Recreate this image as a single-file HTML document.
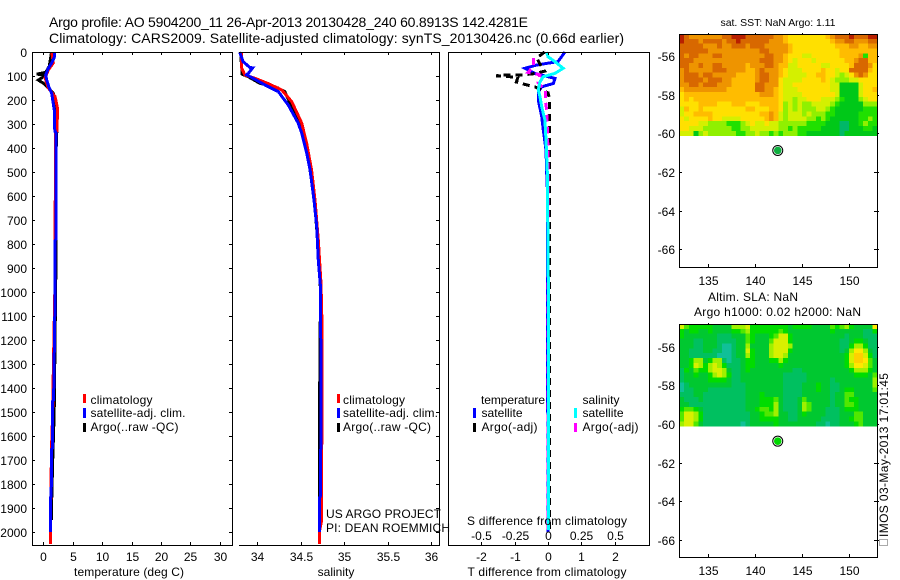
<!DOCTYPE html>
<html>
<head>
<meta charset="utf-8">
<title>Argo profile</title>
<style>
html,body{margin:0;padding:0;background:#fff;}
svg{display:block;}
text{font-family:"Liberation Sans",sans-serif;font-size:12px;fill:#000;}
.title{font-size:14px;}
.mid{text-anchor:middle;}
.end{text-anchor:end;}
</style>
</head>
<body>
<svg id="chart" width="900" height="580" viewBox="0 0 900 580" xmlns="http://www.w3.org/2000/svg">
<rect x="0" y="0" width="900" height="580" fill="#fff"/>
<g id="plots"></g>
<g>
<text class="title" x="49" y="27" textLength="479" lengthAdjust="spacing">Argo profile: AO 5904200_11 26-Apr-2013 20130428_240 60.8913S 142.4281E</text>
<text class="title" x="49" y="43" textLength="575" lengthAdjust="spacing">Climatology: CARS2009. Satellite-adjusted climatology: synTS_20130426.nc (0.66d earlier)</text>
</g>
<text class="mid" x="129" y="576" textLength="110">temperature (deg C)</text>
<text class="mid" x="336" y="576">salinity</text>
<text class="mid" x="547" y="576" textLength="159">T difference from climatology</text>
<text class="mid" x="547" y="525" textLength="160">S difference from climatology</text>

<g>
<rect x="83" y="394" width="3" height="9" fill="#f00"/>
<text x="90.5" y="404" textLength="62">climatology</text>
<rect x="83" y="408" width="3" height="10" fill="#00f"/>
<text x="90.5" y="417" textLength="95">satellite-adj. clim.</text>
<rect x="83" y="423" width="3" height="9" fill="#000"/>
<text x="90.5" y="431" textLength="88">Argo(..raw -QC)</text>
</g>
<g>
<rect x="337" y="394" width="3" height="9" fill="#f00"/>
<text x="343" y="404" textLength="62">climatology</text>
<rect x="337" y="408" width="3" height="10" fill="#00f"/>
<text x="343" y="417" textLength="95">satellite-adj. clim.</text>
<rect x="337" y="423" width="3" height="9" fill="#000"/>
<text x="343" y="431" textLength="88">Argo(..raw -QC)</text>
</g>
<g>
<text x="481" y="404" textLength="64">temperature</text>
<rect x="473" y="408" width="3" height="10" fill="#00f"/>
<text x="481.5" y="417" textLength="41">satellite</text>
<rect x="473" y="423" width="3" height="9" fill="#000"/>
<text x="481.5" y="431" textLength="56">Argo(-adj)</text>
<text x="582.5" y="404" textLength="37">salinity</text>
<rect x="574" y="408" width="3" height="10" fill="#0ff"/>
<text x="582.5" y="417" textLength="41">satellite</text>
<rect x="574" y="423" width="3" height="9" fill="#f0f"/>
<text x="582.5" y="431" textLength="56">Argo(-adj)</text>
</g>
<text x="326" y="518" textLength="115">US ARGO PROJECT</text>
<text x="326" y="532" textLength="124">PI: DEAN ROEMMICH</text>

<text class="mid" x="778" y="26" textLength="115" style="font-size:10.5px">sat. SST: NaN Argo: 1.11</text>
<text x="708" y="301" textLength="90">Altim. SLA: NaN</text>
<text x="694" y="316" textLength="167">Argo h1000: 0.02 h2000: NaN</text>

<g>
<rect x="879.5" y="539.5" width="8" height="6" fill="#fff" stroke="#555" stroke-dasharray="1 1" shape-rendering="crispEdges"/>
<text transform="translate(888,537) rotate(-90)" textLength="164">IMOS 03-May-2013 17:01:45</text>
</g>
</svg>

<script>
/* ---- profile data: pressure (dbar) and values ---- */
const depthTicks = [0,100,200,300,400,500,600,700,800,900,1000,1100,1200,1300,1400,1500,1600,1700,1800,1900,2000];

const tempTicks = [0,5,10,15,20,25,30];
const salinityTicks = [34,34.5,35,35.5,36];
const salinityTickLabels = ['34','34.5','35','35.5','36'];
const tDiffTicks = [-2,-1,0,1,2];
const sDiffTicks = [-0.5,-0.25,0,0.25,0.5];
const sDiffTickLabels = ['-0.5','-0.25','0','0.25','0.5'];

const tempClimDepth = [0,46,75,108,150,186,233,330,335,1000,1400,1500,1650,1850,1900,2050];
const tempClim = [1.45,1.7,0.85,0.3,0.85,2.0,2.4,2.35,2.1,1.95,1.65,1.6,1.4,1.3,1.2,1.2];
const tempSatDepth = [0,20,46,68,96,117,147,172,200,242,330,335,780,785,1000,1450,1455,1650,1655,1850,1855,2000];
const tempSat = [1.9,1.9,1.43,0.85,0.4,0.58,0.97,1.43,1.6,1.87,1.95,2.12,2.12,2.0,2.0,1.75,1.6,1.55,1.4,1.35,1.2,1.2];
const tempArgoDepth = [0,25,60,85,92,96,105,117,130,140,172,200,300,400,800,1000,1500,1700,1900,1950];
const tempArgo = [1.4,1.25,1.0,0.4,-1.1,0.0,-0.1,-0.85,0.0,0.45,1.7,2.0,2.35,2.2,2.2,2.1,1.85,1.6,1.4,1.4];

const salClimDepth = [0,67,96,110,131,158,207,296,379,492,617,783,963,1100,1500,1850,1950,2000,2050];
const salClim = [33.82,33.824,33.86,33.98,34.126,34.284,34.4,34.514,34.57,34.628,34.667,34.705,34.736,34.745,34.745,34.744,34.744,34.716,34.716];
const salSatDepth = [0,40,65,66,89,95,110,137,165,221,297,338,421,492,617,725,867,979,1400,1650,1660,1850,1860,2000];
const salSat = [33.8,33.84,33.92,33.95,33.9,33.88,33.957,34.09,34.245,34.36,34.475,34.514,34.571,34.61,34.655,34.686,34.705,34.73,34.736,34.736,34.728,34.728,34.716,34.716];
const salArgoDepth = [0,93,103,130,150,165,221,297,421,617,867,1000,1600,1950];
const salArgo = [33.81,33.83,33.9,34.03,34.24,34.32,34.39,34.49,34.58,34.66,34.715,34.73,34.716,34.72];

const tDiffSatDepth = [0,40,54,68,89,110,131,145,166,200,269,325,408,504,567,2000];
const tDiffSat = [0.51,0.30,-0.34,-0.69,-0.39,0.21,0.16,-0.19,-0.29,-0.29,-0.19,-0.14,-0.06,-0.04,-0.02,0];
const tDiffArgoDepth = [0,25,60,80,90,95,97,100,105,125,135,145,170,190,300,1000,2000];
const tDiffArgo = [-0.1,-0.34,-0.2,-0.1,-0.4,-0.75,-1.5,-1.55,-0.9,-0.95,-0.7,-0.4,0,0.04,0.04,0.05,0.05];
const sDiffSatDepth = [0,20,40,68,89,103,124,158,186,228,283,366,500,1000,1990];
const sDiffSat = [-0.01,0,0.052,0.114,0.052,-0.035,-0.06,-0.073,-0.06,-0.047,-0.023,-0.015,-0.005,0.003,0.003];
const sDiffArgoDepth = [25,60,85,95,128,158,200,242,408,1000,1990];
const sDiffArgo = [-0.11,-0.11,-0.15,-0.06,-0.075,-0.02,-0.02,-0.01,0,0,0];

/* ---- map data: colour level per cell, north to south ---- */
const lonTicks = [135,140,145,150];
const latTicks = [-56,-58,-60,-62,-64,-66];
const floatLon = 142.43;
const floatLat = -60.89;

const sstGrid = [
[9,8,7,7,7,7,7,7,7,8,8,9,9,9,8,8,8,8,8,8,7, 7,6,5,5,5,5,5,5,5,5,6,7,8,8,8,9,8,8,8,9,9],
[9,8,8,8,7,8,8,8,8,7,8,8,9,8,8,8,8,8,8,7,7, 7,6,5,5,5,5,5,5,5,5,5,6,7,7,8,8,7,7,7,8,8],
[8,8,8,8,8,7,7,7,8,7,7,8,8,8,7,8,8,8,7,7,7, 7,7,6,5,5,5,5,5,5,5,5,5,6,6,6,7,7,6,6,7,7],
[8,8,8,8,8,8,7,7,7,7,7,7,7,7,7,7,7,8,8,7,7, 7,7,6,5,5,5,5,5,5,5,5,5,5,6,6,6,6,6,6,6,6],
[8,7,8,8,7,7,7,8,8,7,7,7,7,7,7,7,7,7,8,8,7, 7,6,5,5,5,4,4,5,5,5,5,5,5,6,6,6,6,7,2,6,6],
[8,8,8,7,7,7,7,7,7,7,7,7,7,7,7,7,7,8,8,8,7, 7,6,5,4,5,5,5,4,5,5,5,5,5,5,6,6,7,8,8,6,6],
[8,8,7,7,8,7,7,8,8,7,7,7,7,7,6,7,7,7,8,8,7, 6,6,4,4,5,5,5,5,5,4,4,5,5,5,5,6,8,8,8,7,5],
[7,8,7,7,7,7,7,8,8,8,7,7,7,7,6,6,7,8,7,7,7, 6,5,4,4,4,5,5,5,5,6,5,5,4,5,5,8,8,8,8,6,5],
[7,8,8,8,7,8,8,7,7,7,7,7,6,6,6,6,7,8,8,7,7, 6,5,4,4,4,4,5,5,6,6,5,5,4,3,4,5,7,8,7,5,5],
[7,8,8,8,8,7,8,8,8,7,7,6,6,6,6,6,7,8,8,7,7, 5,4,4,4,4,5,5,5,5,6,5,4,3,3,3,4,4,5,5,5,5],
[7,7,8,8,7,8,8,8,7,7,7,6,6,6,6,6,8,8,7,7,7, 5,4,4,5,5,5,5,5,5,5,5,4,4,1,1,1,1,4,5,5,5],
[6,7,7,7,7,7,7,7,7,7,6,6,6,6,6,6,8,8,7,7,6, 5,4,4,4,5,5,5,5,5,5,5,4,4,1,1,1,1,4,5,5,6],
[5,6,6,6,6,6,6,6,6,6,6,6,6,6,6,6,6,7,7,7,6, 5,4,4,4,4,5,5,5,5,5,5,5,4,1,1,1,1,4,5,5,5],
[5,6,5,6,6,6,6,6,6,6,6,6,6,6,6,6,6,6,6,6,6, 5,4,4,3,4,4,5,5,5,4,4,4,3,2,1,1,1,3,4,5,5],
[5,5,5,5,6,6,6,6,5,5,5,6,6,6,5,5,5,6,6,6,6, 5,3,4,3,4,3,3,4,4,4,4,3,2,1,1,1,1,1,3,3,3],
[4,6,5,5,6,5,5,5,5,5,5,5,5,5,6,6,5,5,5,6,6, 5,3,4,3,4,3,3,3,4,4,3,2,1,1,1,1,1,1,2,2,2],
[4,5,5,6,6,6,6,5,5,5,5,5,5,5,5,5,5,6,6,7,6, 4,3,4,4,4,3,4,3,3,3,2,2,1,1,1,1,1,2,2,2,2],
[5,4,5,5,5,5,6,5,5,4,4,4,4,5,5,5,5,5,6,7,6, 4,3,4,4,4,4,3,3,2,3,2,1,1,1,1,1,1,2,2,3,2],
[5,5,5,5,4,4,3,3,3,3,2,2,2,3,4,5,4,4,5,4,4, 3,3,3,3,3,3,2,2,2,2,1,1,1,0,0,1,1,2,3,2,2],
[5,5,4,4,4,3,3,3,3,3,3,2,2,3,3,4,4,4,4,4,4, 3,3,2,3,2,2,2,2,2,1,1,1,1,0,0,1,1,1,2,2,1],
[4,4,4,1,3,4,3,3,3,3,3,3,2,2,3,3,4,3,3,2,3, 2,3,3,3,2,2,1,1,1,1,1,1,1,0,1,1,1,1,1,1,1]
];

const slaGrid = [
[6,4,3,3,3,3,3,2,2,2,2,5,5,5,6,3,3,3,3,3,3, 3,3,2,3,3,3,3,2,2,2,2,4,3,4,5,3,2,2,2,2,7],
[3,2,3,3,2,2,3,2,2,2,2,3,3,4,5,3,3,3,3,3,3, 4,3,2,2,2,2,2,2,2,2,2,3,2,2,2,2,2,2,1,1,3],
[3,2,2,2,2,2,2,2,1,1,1,2,2,2,4,3,2,2,2,3,4, 6,6,3,2,2,2,2,2,2,2,2,2,2,2,1,2,2,2,1,1,1],
[2,2,2,1,1,2,2,2,1,1,1,1,2,2,4,3,2,2,2,4,6, 6,6,3,2,2,2,2,2,2,2,2,2,2,1,1,2,3,3,2,1,1],
[2,2,2,1,1,2,2,2,1,0,0,1,2,2,5,2,2,2,2,5,6, 6,6,5,2,2,2,2,2,2,2,2,2,2,1,1,3,5,5,3,1,1],
[2,2,1,1,1,2,2,1,1,0,0,1,2,2,6,3,2,2,2,5,6, 6,6,3,2,2,2,2,2,2,2,2,2,2,1,2,5,7,7,5,2,1],
[2,2,1,1,1,1,1,1,0,0,0,1,2,2,5,3,2,2,2,5,6, 6,5,2,2,2,2,2,2,2,2,2,2,2,2,3,6,8,8,6,3,1],
[2,2,3,5,5,2,3,5,5,1,0,1,1,2,3,3,2,2,2,3,3, 5,3,2,2,2,2,2,2,2,2,2,2,2,2,3,6,8,8,7,4,2],
[2,2,3,6,5,3,5,6,5,3,1,1,1,2,3,3,2,2,2,2,2, 3,2,2,2,2,2,2,2,2,2,2,2,2,2,3,5,7,7,6,4,2],
[1,3,2,4,3,3,5,6,6,5,2,1,1,2,3,2,2,2,2,2,2, 2,2,2,1,1,2,2,2,2,2,2,2,2,2,2,3,5,5,5,3,2],
[1,2,2,3,2,2,3,5,6,5,3,1,1,2,2,2,2,2,2,2,2, 2,1,1,1,1,1,2,2,2,2,2,2,2,2,2,2,3,3,3,2,4],
[1,2,2,2,2,2,3,3,3,3,2,1,1,2,2,2,2,2,2,2,2, 2,1,1,1,1,1,2,2,2,2,2,1,2,2,2,2,2,2,2,2,5],
[0,1,2,2,2,2,2,2,2,2,2,1,1,1,2,2,2,2,2,2,2, 2,1,1,1,1,2,2,2,3,2,2,1,1,2,2,2,2,2,2,2,5],
[0,1,1,2,2,2,1,1,1,1,1,1,1,1,2,2,2,2,2,2,2, 2,1,1,1,1,2,2,2,3,2,2,1,1,2,3,3,2,2,2,2,4],
[1,1,1,2,2,1,1,1,1,1,1,1,1,1,2,2,2,3,2,2,2, 2,1,1,1,1,2,2,2,2,2,2,1,2,2,4,4,2,2,2,2,2],
[2,1,1,1,2,1,1,1,1,1,1,1,1,1,2,2,2,3,3,3,4, 2,1,1,1,2,4,2,2,2,2,2,1,2,2,4,3,3,2,2,2,2],
[2,2,1,1,1,1,1,1,1,1,1,1,1,1,2,2,2,3,3,3,5, 2,1,1,1,2,5,4,2,2,2,2,1,2,2,4,4,3,2,2,2,2],
[3,4,4,3,2,1,1,1,1,1,1,1,1,1,2,2,3,4,4,3,5, 2,1,1,1,2,5,4,2,2,2,1,1,1,2,3,3,3,2,2,2,2],
[4,6,6,5,3,1,1,1,1,1,1,1,1,1,1,2,2,3,4,4,5, 2,2,1,1,2,3,2,2,2,2,1,1,1,2,2,2,4,4,2,2,2],
[4,6,6,5,3,1,1,1,1,1,1,1,1,1,1,2,2,3,3,3,3, 2,2,1,1,2,2,2,2,2,1,1,1,1,2,2,3,4,4,2,2,2],
[5,6,6,4,2,1,1,1,1,1,1,1,1,0,1,2,2,2,2,2,3, 2,2,2,2,2,2,2,2,1,1,0,1,1,2,2,2,3,4,2,2,2]
];

/* ---- drawing ---- */
const NS = 'http://www.w3.org/2000/svg';
const plots = document.getElementById('plots');
const TOP = 52, BOTTOM = 545;
function depthY(d){ return TOP + d * 0.2401; }
function tempX(v){ return 43.3 + v * 5.88; }
function salX(v){ return 257 + (v - 34) * 87; }
function tDiffX(v){ return 548 + v * 33.33; }
function sDiffX(v){ return 548 + v * 133.3; }
function lonX(v){ return 679.5 + (v - 132) * 9.42; }
function latY(y56, v){ return y56 + (-56 - v) * 19.32; }

function make(parent, tag, attrs, txt){
  const el = document.createElementNS(NS, tag);
  for (const k in attrs) el.setAttribute(k, attrs[k]);
  if (txt !== undefined) el.textContent = txt;
  parent.appendChild(el);
  return el;
}
function hLine(g, x1, x2, y){
  const el = make(g, 'line', {x1:x1, x2:x2, y1:y+0.5, y2:y+0.5, stroke:'#000', 'stroke-width':1, 'shape-rendering':'crispEdges'});
  
  
}
function vLine(g, x, y1, y2){
  const el = make(g, 'line', {x1:x+0.5, x2:x+0.5, y1:y1, y2:y2, stroke:'#000', 'stroke-width':1, 'shape-rendering':'crispEdges'});
  
  
}
function tickMark(g, x1, y1, x2, y2){
  const el = make(g, 'line', {x1:x1, y1:y1, x2:x2, y2:y2, stroke:'#000', 'stroke-width':1, 'shape-rendering':'crispEdges'});
  
  
}
function tickLabel(g, x, y, cls, txt){
  const el = make(g, 'text', {x:x, y:y, 'class':cls}, txt);
  
  
}
function profile(g, name, depths, values, xFn, color, dash){
  const pts = depths.map(function(d, i){ return xFn(values[i]).toFixed(1) + ',' + depthY(d).toFixed(1); }).join(' ');
  const attrs = {points:pts, fill:'none', stroke:color, 'stroke-width':3, 'shape-rendering':'crispEdges'};
  if (dash) attrs['stroke-dasharray'] = dash;
  const el = make(g, 'polyline', attrs);
  
  
}
function yTicks(g, x1, x2){
  depthTicks.forEach(function(d){
    const y = Math.round(depthY(d)) + 0.5;
    tickMark(g, x1, y, x2, y);
  });
}

/* panel 1: temperature */
const p1 = make(plots, 'g', {});


profile(p1, 'temperature-argo-line', tempArgoDepth, tempArgo, tempX, '#000');
profile(p1, 'temperature-climatology-line', tempClimDepth, tempClim, tempX, '#f00');
profile(p1, 'temperature-satellite-line', tempSatDepth, tempSat, tempX, '#00f');
hLine(p1, 32, 233, TOP); hLine(p1, 32, 233, BOTTOM); vLine(p1, 32, TOP, BOTTOM+1); vLine(p1, 232, TOP, BOTTOM+1);
yTicks(p1, 32, 35); yTicks(p1, 229, 232);
depthTicks.forEach(function(d){ tickLabel(p1, 27, Math.round(depthY(d)) + 5, 'end', String(d)); });
tempTicks.forEach(function(v){
  const x = Math.round(tempX(v)) + 0.5;
  tickMark(p1, x, TOP, x, TOP+3);
  tickMark(p1, x, BOTTOM-3, x, BOTTOM);
  tickLabel(p1, x, 561, 'mid', String(v));
});

/* panel 2: salinity */
const p2 = make(plots, 'g', {});


profile(p2, 'salinity-argo-line', salArgoDepth, salArgo, salX, '#000');
profile(p2, 'salinity-climatology-line', salClimDepth, salClim, salX, '#f00');
profile(p2, 'salinity-satellite-line', salSatDepth, salSat, salX, '#00f');
hLine(p2, 239, 440, TOP); hLine(p2, 239, 440, BOTTOM); vLine(p2, 439, TOP, BOTTOM+1);
yTicks(p2, 436, 439);
salinityTicks.forEach(function(v, i){
  const x = Math.round(salX(v)) + 0.5;
  tickMark(p2, x, TOP, x, TOP+3);
  tickMark(p2, x, BOTTOM-3, x, BOTTOM);
  tickLabel(p2, x, 561, 'mid', salinityTickLabels[i]);
});

/* panel 3: differences */
const p3 = make(plots, 'g', {});


profile(p3, 't-difference-satellite-line', tDiffSatDepth, tDiffSat, tDiffX, '#00f');
profile(p3, 't-difference-argo-line', tDiffArgoDepth, tDiffArgo, tDiffX, '#000', '7 5');
profile(p3, 's-difference-argo-line', sDiffArgoDepth, sDiffArgo, sDiffX, '#f0f', '7 5');
profile(p3, 's-difference-satellite-line', sDiffSatDepth, sDiffSat, sDiffX, '#0ff');
hLine(p3, 448, 650, TOP); hLine(p3, 448, 650, BOTTOM); vLine(p3, 448, TOP, BOTTOM+1); vLine(p3, 649, TOP, BOTTOM+1);
tDiffTicks.forEach(function(v){
  const x = Math.round(tDiffX(v)) + 0.5;
  tickMark(p3, x, TOP, x, TOP+3);
  tickMark(p3, x, BOTTOM-3, x, BOTTOM);
  tickLabel(p3, x, 561, 'mid', String(v));
});
sDiffTicks.forEach(function(v, i){
  tickLabel(p3, Math.round(sDiffX(v)) + 0.5, 540, 'mid', sDiffTickLabels[i]);
});

/* maps */
const sstColors = ['#00b868','#00c818','#20e000','#90f000','#d4f000','#ffe000','#ffbc00','#ee9400','#d86800','#b82000'];
const slaColors = ['#10c098','#00c060','#00c830','#00dc00','#50e800','#a0f000','#d8f000','#ffe800','#ffd000'];
function drawMap(name, grid, palette, top, y56, dotColor){
  const m = make(plots, 'g', {});
  
  
  const bottom = top + 233, left = 679, right = 877;
  lonTicks.forEach(function(v){
    const x = Math.round(lonX(v)) + 0.5;
    tickMark(m, x, top-1, x, top+3);
    tickMark(m, x, bottom-3, x, bottom);
    tickLabel(m, x, bottom+18, 'mid', String(v));
  });
  latTicks.forEach(function(v){
    const y = Math.round(latY(y56, v)) + 0.5;
    tickMark(m, left, y, left+3, y);
    tickMark(m, right-3, y, right+2, y);
    tickLabel(m, 675, y+4.5, 'end', String(v));
  });
  const north = -56 + (y56 - top) / 19.32;
  const south = -60.12;
  const lonStep = (153 - 132) / grid[0].length;
  const latStep = (north - south) / grid.length;
  grid.forEach(function(row, r){
    row.forEach(function(level, c){
      const x0 = lonX(132 + c * lonStep), x1 = lonX(132 + (c + 1) * lonStep);
      const y0 = latY(y56, north - r * latStep), y1 = latY(y56, north - (r + 1) * latStep);
      const cell = make(m, 'rect', {x:x0.toFixed(2), y:y0.toFixed(2), width:(x1-x0+0.4).toFixed(2), height:(y1-y0+0.4).toFixed(2), fill:palette[level], 'shape-rendering':'crispEdges'});
      
      
    });
  });
  hLine(m, left, right+1, top); hLine(m, left, right+1, bottom); vLine(m, left, top, bottom+1); vLine(m, right, top, bottom+1);
  const ring = make(m, 'circle', {cx:lonX(floatLon), cy:latY(y56, floatLat), r:5, fill:'#fff', stroke:'#000', 'stroke-width':1});
  
  
  const dot = make(m, 'circle', {cx:lonX(floatLon), cy:latY(y56, floatLat), r:3.8, fill:dotColor});
  
  
}
drawMap('sst-map', sstGrid, sstColors, 34, 56, '#10b040');
drawMap('sla-map', slaGrid, slaColors, 324, 346.7, '#00d800');
</script>
</body>
</html>
